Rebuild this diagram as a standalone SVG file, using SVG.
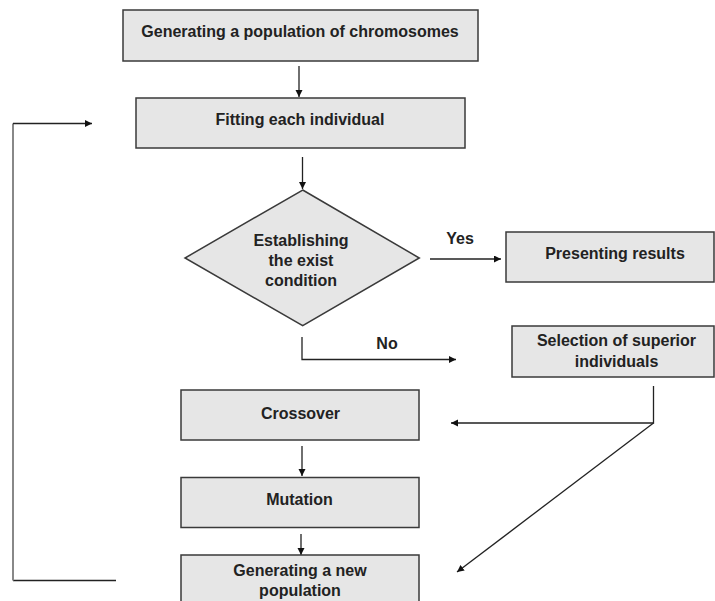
<svg xmlns="http://www.w3.org/2000/svg" width="715" height="601" viewBox="0 0 715 601">
<style>
.box{fill:#e6e6e6;stroke:#3a3a3a;stroke-width:1.5}
.t{font-family:"Liberation Sans",Arial,sans-serif;font-weight:bold;font-size:16px;fill:#222;text-anchor:middle}
.c{fill:none;stroke:#222;stroke-width:1.3}
</style>
<defs>
<marker id="ah" markerUnits="userSpaceOnUse" markerWidth="8" markerHeight="8" refX="7" refY="3.5" orient="auto">
<path d="M0,0 L7,3.5 L0,7 Z" fill="#111"/>
</marker>
</defs>
<rect width="715" height="601" fill="#fff"/>
<g id="connectors">
<path class="c" d="M299,66 V97" marker-end="url(#ah)"/>
<path class="c" d="M302.5,157 V189" marker-end="url(#ah)"/>
<path class="c" d="M430,259 H501" marker-end="url(#ah)"/>
<path class="c" d="M302,337 V359.5 H456" marker-end="url(#ah)"/>
<path class="c" d="M653.5,386 V423 H451" marker-end="url(#ah)"/>
<path class="c" d="M653.5,423 L457,572" marker-end="url(#ah)"/>
<path class="c" d="M302,446 V476" marker-end="url(#ah)"/>
<path class="c" d="M301,534 V555" marker-end="url(#ah)"/>
<path class="c" d="M116,580.5 H13"/>
<path d="M13,580.5 V123.5" fill="none" stroke="#888" stroke-width="2"/>
<path class="c" d="M13,123.5 H92" marker-end="url(#ah)"/>
</g>
<g id="generate-population">
<rect class="box" x="123" y="10" width="355" height="51"/>
<text class="t" x="300" y="36.5">Generating a population of chromosomes</text>
</g>
<g id="fitting">
<rect class="box" x="136" y="98" width="329" height="50"/>
<text class="t" x="300" y="124.5">Fitting each individual</text>
</g>
<g id="exit-condition">
<polygon class="box" points="302.7,190 419.3,258 302.7,325.7 185,258"/>
<text class="t" x="301" y="245.5">Establishing</text>
<text class="t" x="301" y="266">the exist</text>
<text class="t" x="301" y="286">condition</text>
</g>
<g id="labels">
<text class="t" x="460" y="243.5">Yes</text>
<text class="t" x="387" y="348.5">No</text>
</g>
<g id="presenting">
<rect class="box" x="506" y="232" width="208" height="50"/>
<text class="t" x="615" y="258.5">Presenting results</text>
</g>
<g id="selection">
<rect class="box" x="512" y="326" width="202" height="51"/>
<text class="t" x="616.5" y="346">Selection of superior</text>
<text class="t" x="616.5" y="366.5">individuals</text>
</g>
<g id="crossover">
<rect class="box" x="181" y="390" width="238" height="50"/>
<text class="t" x="300.5" y="418.5">Crossover</text>
</g>
<g id="mutation">
<rect class="box" x="181" y="477.5" width="238" height="50"/>
<text class="t" x="299.5" y="504.5">Mutation</text>
</g>
<g id="new-population">
<rect class="box" x="181" y="555" width="238" height="60"/>
<text class="t" x="300" y="575.5">Generating a new</text>
<text class="t" x="300" y="596">population</text>
</g>
</svg>
